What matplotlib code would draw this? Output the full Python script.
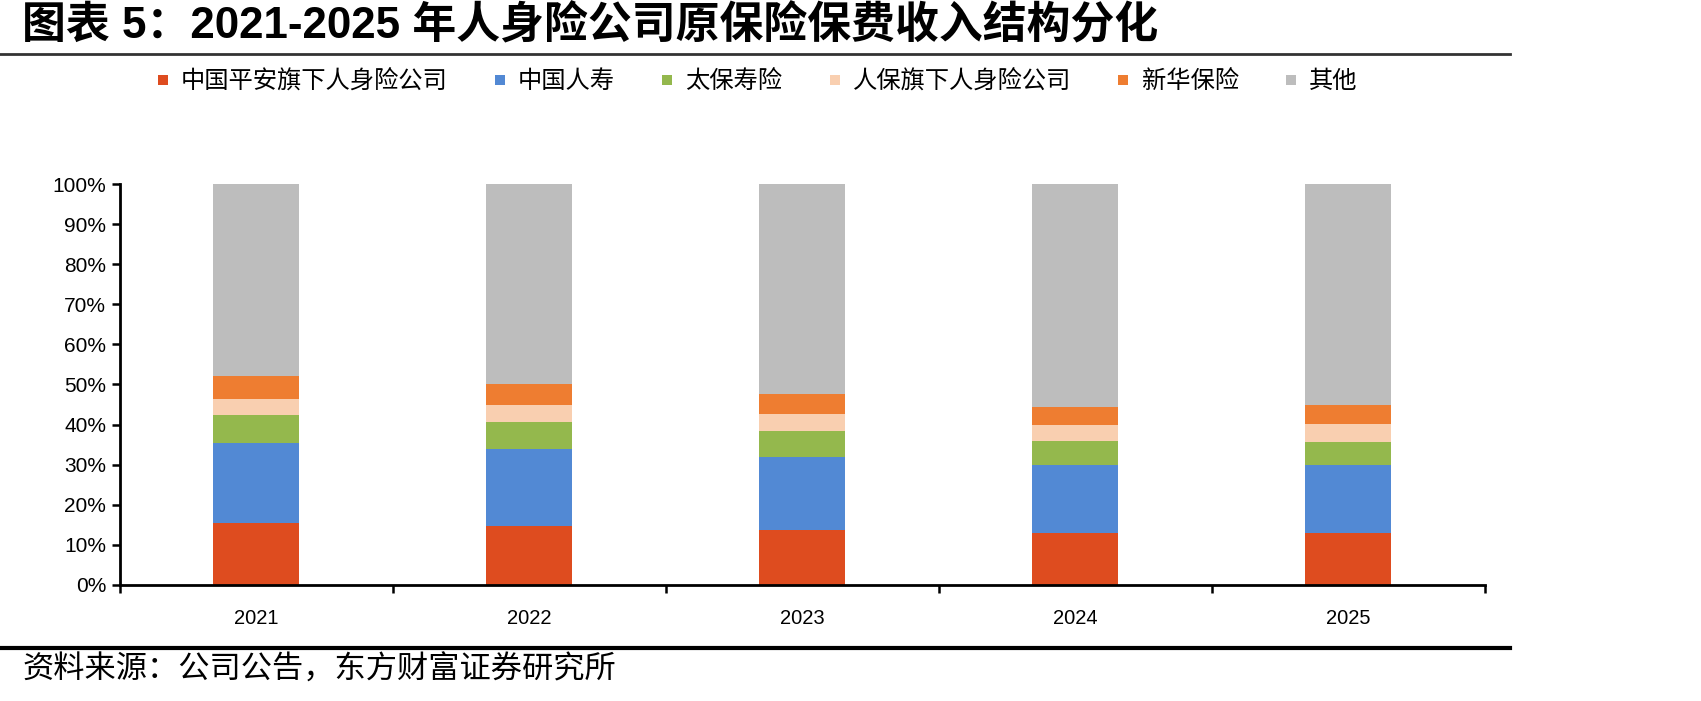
import matplotlib
matplotlib.use("Agg")
import matplotlib.pyplot as plt
import numpy as np
from matplotlib.lines import Line2D

plt.rcParams['font.family'] = ['Liberation Sans', 'Noto Sans CJK SC', 'DejaVu Sans']

# 数据（读图估计，单位 %）
years = ['2021', '2022', '2023', '2024', '2025']
pingan = [15.5, 14.7, 13.7, 12.9, 12.9]
guoshou = [19.8, 19.1, 18.1, 16.9, 16.9]
taibao = [7.1, 6.8, 6.7, 6.2, 5.8]
renbao = [4.1, 4.3, 4.2, 3.9, 4.6]
xinhua = [5.5, 5.2, 5.0, 4.4, 4.7]
others = [48.0, 49.9, 52.3, 55.7, 55.1]

series_names = ['中国平安旗下人身险公司', '中国人寿', '太保寿险', '人保旗下人身险公司', '新华保险', '其他']
series_colors = ['#DE4C1F', '#5289D4', '#94B84D', '#F9CFB0', '#EE7D31', '#BDBDBD']
series = [pingan, guoshou, taibao, renbao, xinhua, others]

fig = plt.figure(figsize=(17.01, 7.01), dpi=100)
ax = fig.add_axes([0.0705, 0.1655, 0.8025, 0.572])

x = np.arange(len(years))
bottom = np.zeros(len(years))
for name, vals, col in zip(series_names, series, series_colors):
    v = np.array(vals) / 100.0
    ax.bar(x, v, width=0.315, bottom=bottom, color=col, label=name, linewidth=0)
    bottom += v

ax.set_xlim(-0.5, len(years) - 0.5)
ax.set_ylim(0, 1.0)
ax.set_yticks(np.arange(0, 1.01, 0.1))
ax.set_yticklabels([f'{int(round(t * 100))}%' for t in np.arange(0, 1.01, 0.1)], fontsize=15)
ax.set_xticks(x)
ax.set_xticklabels(years, fontsize=14.5)
ax.set_xticks(np.arange(-0.5, len(years), 1.0), minor=True)
ax.tick_params(axis='x', which='major', length=0, pad=17)
ax.tick_params(axis='x', which='minor', length=6, width=1.8, direction='out')
ax.tick_params(axis='y', length=6, width=1.8, direction='out', pad=4)
for s in ['top', 'right']:
    ax.spines[s].set_visible(False)
for s in ['left', 'bottom']:
    ax.spines[s].set_linewidth(2)
    ax.spines[s].set_color('black')

handles = [Line2D([], [], marker='s', linestyle='none', markersize=7,
                  markerfacecolor=c, markeredgewidth=0) for c in series_colors]
fig.legend(handles, series_names, loc='center', bbox_to_anchor=(0.444, 0.884),
           ncol=6, frameon=False, handlelength=0.8,
           handletextpad=0.35, columnspacing=1.75,
           prop={'family': ['Noto Sans CJK SC'], 'size': 17.5})

# 标题与来源
fig.text(0.013, 0.962, '图表 5：2021-2025 年人身险公司原保险保费收入结构分化',
         fontsize=31.6, fontweight='bold', ha='left', va='center')
fig.add_artist(Line2D([0, 0.888], [0.923, 0.923], color='#333333', lw=2))
fig.add_artist(Line2D([0, 0.888], [0.076, 0.076], color='black', lw=3))
fig.text(0.013, 0.045, '资料来源：公司公告，东方财富证券研究所',
         fontsize=22.5, ha='left', va='center', family=['Noto Sans CJK SC'])

fig.savefig('out.png', dpi=100)
